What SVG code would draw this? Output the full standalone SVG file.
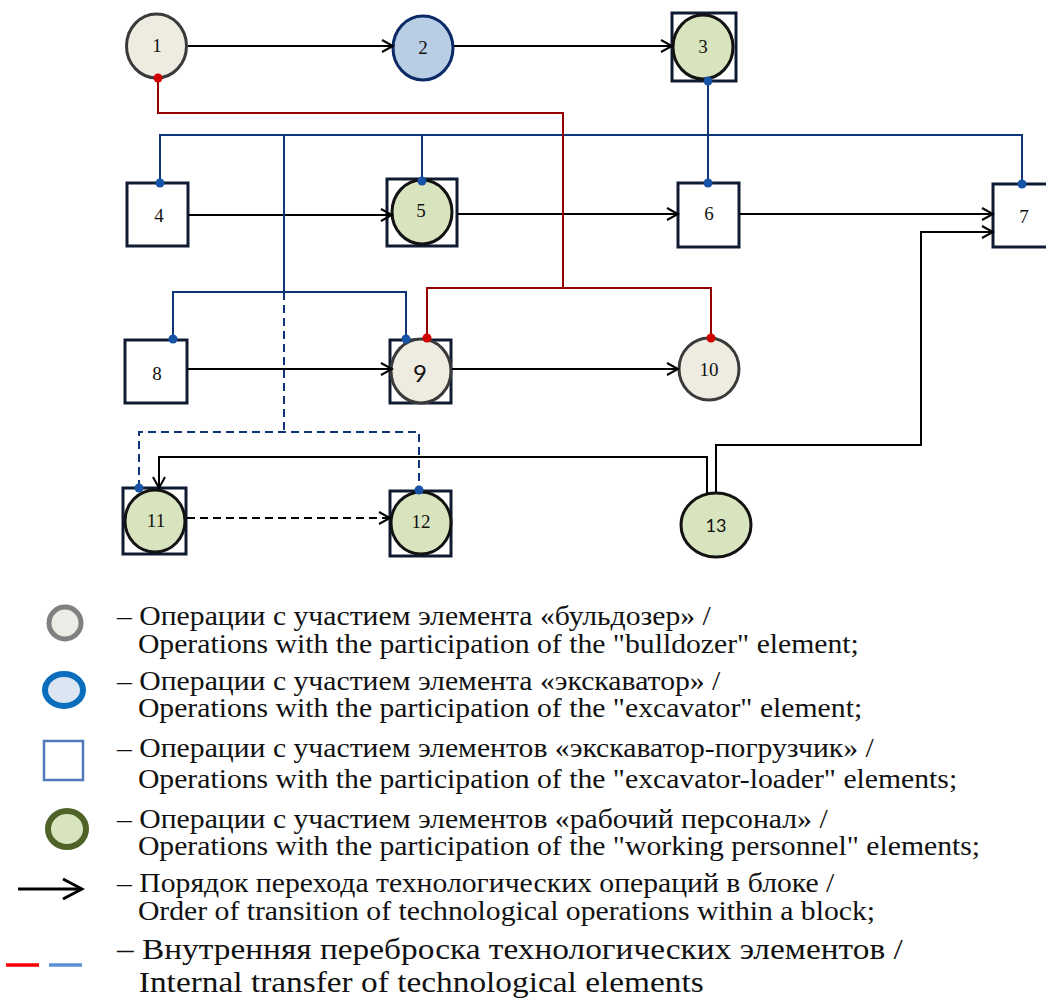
<svg xmlns="http://www.w3.org/2000/svg" width="1046" height="1002" viewBox="0 0 1046 1002">
<style>
.bg{fill:#fff}
.ng{fill:#EEECE1;stroke:#3A3A3A;stroke-width:3}
.nb{fill:#B9CDE5;stroke:#0B2A66;stroke-width:3}
.nn{fill:#D7E4BD;stroke:#121212;stroke-width:3}
.sq{fill:#fff;stroke:#0F1A33;stroke-width:3}
.lbl{font-family:"Liberation Serif",serif;font-size:19px;text-anchor:middle;fill:#111}
.lbs{font-family:Lato,"Open Sans",sans-serif;text-anchor:middle;fill:#111}
.flow{stroke:#000;stroke-width:2;fill:none;marker-end:url(#arr)}
.dash{stroke-dasharray:8 5}
.blue{stroke:#0E3579;stroke-width:2;fill:none}
.red{stroke:#960000;stroke-width:2;fill:none}
.bdot{fill:#1753A6}
.rdot{fill:#D00000}
.leg{font-family:"Liberation Serif",serif;font-size:27px;fill:#111}
.leg2{font-family:"Liberation Serif",serif;font-size:29px;fill:#111}
</style>
<defs>
<marker id="arr" markerWidth="14" markerHeight="16" refX="12" refY="7" orient="auto" markerUnits="userSpaceOnUse">
<path d="M1,1 L12,7 L1,13" fill="none" stroke="#000" stroke-width="2"/>
</marker>
<marker id="arrL" markerWidth="24" markerHeight="26" refX="21" refY="12" orient="auto" markerUnits="userSpaceOnUse">
<path d="M2,2 L21,12 L2,22" fill="none" stroke="#000" stroke-width="3"/>
</marker>
</defs>
<rect class="bg" x="0" y="0" width="1046" height="1002"/>

<g id="nodes">
<g id="n1"><ellipse class="ng" cx="156.5" cy="46" rx="30" ry="32"/><text class="lbl" x="157" y="52">1</text></g>
<g id="n2"><ellipse class="nb" cx="423" cy="48" rx="30" ry="32"/><text class="lbl" x="423" y="54">2</text></g>
<g id="n3"><rect class="sq" x="672" y="13" width="64" height="68" stroke-width="2.5"/><ellipse class="nn" cx="703" cy="47" rx="30" ry="32"/><text class="lbl" x="703" y="53">3</text></g>
<g id="n4"><rect class="sq" x="127" y="183" width="61" height="63"/><text class="lbl" x="159" y="222">4</text></g>
<g id="n5"><rect class="sq" x="387" y="179" width="70" height="67"/><ellipse class="nn" cx="422" cy="212" rx="30" ry="32"/><text class="lbl" x="421" y="217">5</text></g>
<g id="n6"><rect class="sq" x="678" y="183" width="61" height="64"/><text class="lbl" x="709" y="220">6</text></g>
<g id="n7"><rect class="sq" x="993" y="184" width="63" height="63"/><text class="lbl" x="1024" y="223" fill="#444">7</text></g>
<g id="n8"><rect class="sq" x="125" y="340" width="62" height="63"/><text class="lbl" x="157" y="380">8</text></g>
<g id="n9"><rect class="sq" x="390" y="340" width="61" height="63"/><ellipse class="ng" cx="421" cy="371" rx="30" ry="32"/><text class="lbs" x="420" y="382" font-size="24">9</text></g>
<g id="n10"><ellipse class="ng" cx="709" cy="369" rx="30" ry="31"/><text class="lbl" x="709" y="376">10</text></g>
<g id="n11"><rect class="sq" x="123" y="488" width="63" height="66"/><ellipse class="nn" cx="155" cy="521" rx="30" ry="31"/><text class="lbl" x="156" y="527">11</text></g>
<g id="n12"><rect class="sq" x="390" y="491" width="61" height="65"/><ellipse class="nn" cx="421" cy="523" rx="30" ry="31"/><text class="lbl" x="421" y="528">12</text></g>
<g id="n13"><ellipse class="nn" cx="716" cy="525" rx="35" ry="32"/><text class="lbs" x="716" y="532" font-size="18">13</text></g>
</g>

<g id="connectors">
<line class="flow" x1="188" y1="46" x2="393" y2="46"/>
<line class="flow" x1="454" y1="46" x2="672" y2="46"/>
<line class="flow" x1="188" y1="215" x2="392" y2="215"/>
<line class="flow" x1="457" y1="214" x2="678" y2="214"/>
<line class="flow" x1="739" y1="214" x2="993" y2="214"/>
<polyline class="flow" points="716,493 716,445 921,445 921,232 993,232"/>
<polyline class="flow" points="707,493 707,457 159,457 159,488"/>
<line class="flow" x1="187" y1="369" x2="392" y2="369"/>
<line class="flow" x1="452" y1="369" x2="678" y2="369"/>
<line class="flow dash" x1="187" y1="518" x2="390" y2="518"/>

<polyline class="blue" points="160,183 160,135 1022,135 1022,184"/>
<line class="blue" x1="422" y1="135" x2="422" y2="181"/>
<line class="blue" x1="708" y1="81" x2="708" y2="183"/>
<line class="blue" x1="284" y1="135" x2="284" y2="292"/>
<line class="blue dash" x1="284" y1="292" x2="284" y2="432"/>
<polyline class="blue" points="173,339 173,292 406,292 406,339"/>
<polyline class="blue dash" points="139,488 139,432 419,432 419,490"/>

<polyline class="red" points="158,78 158,113 563,113 563,288"/>
<polyline class="red" points="427,338 427,288 711,288 711,338"/>

<circle class="bdot" cx="708" cy="81" r="4.5"/>
<circle class="bdot" cx="160" cy="183" r="4.5"/>
<circle class="bdot" cx="422" cy="181" r="4.5"/>
<circle class="bdot" cx="708" cy="183" r="4.5"/>
<circle class="bdot" cx="1022" cy="184" r="4.5"/>
<circle class="bdot" cx="173" cy="339" r="4.5"/>
<circle class="bdot" cx="406" cy="339" r="4.5"/>
<circle class="bdot" cx="139" cy="488" r="4.5"/>
<circle class="bdot" cx="419" cy="490" r="4.5"/>
<circle class="rdot" cx="158" cy="78" r="4.5"/>
<circle class="rdot" cx="427" cy="338" r="4.5"/>
<circle class="rdot" cx="711" cy="338" r="4.5"/>
</g>

<g id="legend">
<circle cx="65" cy="623" r="16" fill="#ECECE6" stroke="#808080" stroke-width="5"/>
<ellipse cx="64" cy="690" rx="19" ry="16" fill="#DCE6F2" stroke="#0A6EBD" stroke-width="6"/>
<rect x="44" y="741" width="39" height="39" fill="#fff" stroke="#4F7AB8" stroke-width="2.5"/>
<ellipse cx="67" cy="829" rx="19" ry="18" fill="#D7E4BD" stroke="#4F6228" stroke-width="6"/>
<line x1="18" y1="889" x2="82" y2="889" stroke="#000" stroke-width="3" marker-end="url(#arrL)"/>
<line x1="6" y1="965" x2="39" y2="965" stroke="#FF0000" stroke-width="3.5"/>
<line x1="49" y1="965" x2="82" y2="965" stroke="#5B8FD6" stroke-width="3.5"/>
<g transform="translate(117,0) scale(1.1,1)">
<text class="leg" x="0" y="625">– Операции с участием элемента «бульдозер» /</text>
<text class="leg" x="19" y="653">Operations with the participation of the "bulldozer" element;</text>
<text class="leg" x="0" y="690">– Операции с участием элемента «экскаватор» /</text>
<text class="leg" x="19" y="717">Operations with the participation of the "excavator" element;</text>
<text class="leg" x="0" y="757">– Операции с участием элементов «экскаватор-погрузчик» /</text>
<text class="leg" x="19" y="788">Operations with the participation of the "excavator-loader" elements;</text>
<text class="leg" x="0" y="828">– Операции с участием элементов «рабочий персонал» /</text>
<text class="leg" x="19" y="855">Operations with the participation of the "working personnel" elements;</text>
<text class="leg" x="0" y="892">– Порядок перехода технологических операций в блоке /</text>
<text class="leg" x="19" y="920">Order of transition of technological operations within a block;</text>
</g>
<g transform="translate(117,0) scale(1.15,1)">
<text class="leg2" x="0" y="959">– Внутренняя переброска технологических элементов /</text>
<text class="leg2" x="19" y="992">Internal transfer of technological elements</text>
</g>
</g>
</svg>
